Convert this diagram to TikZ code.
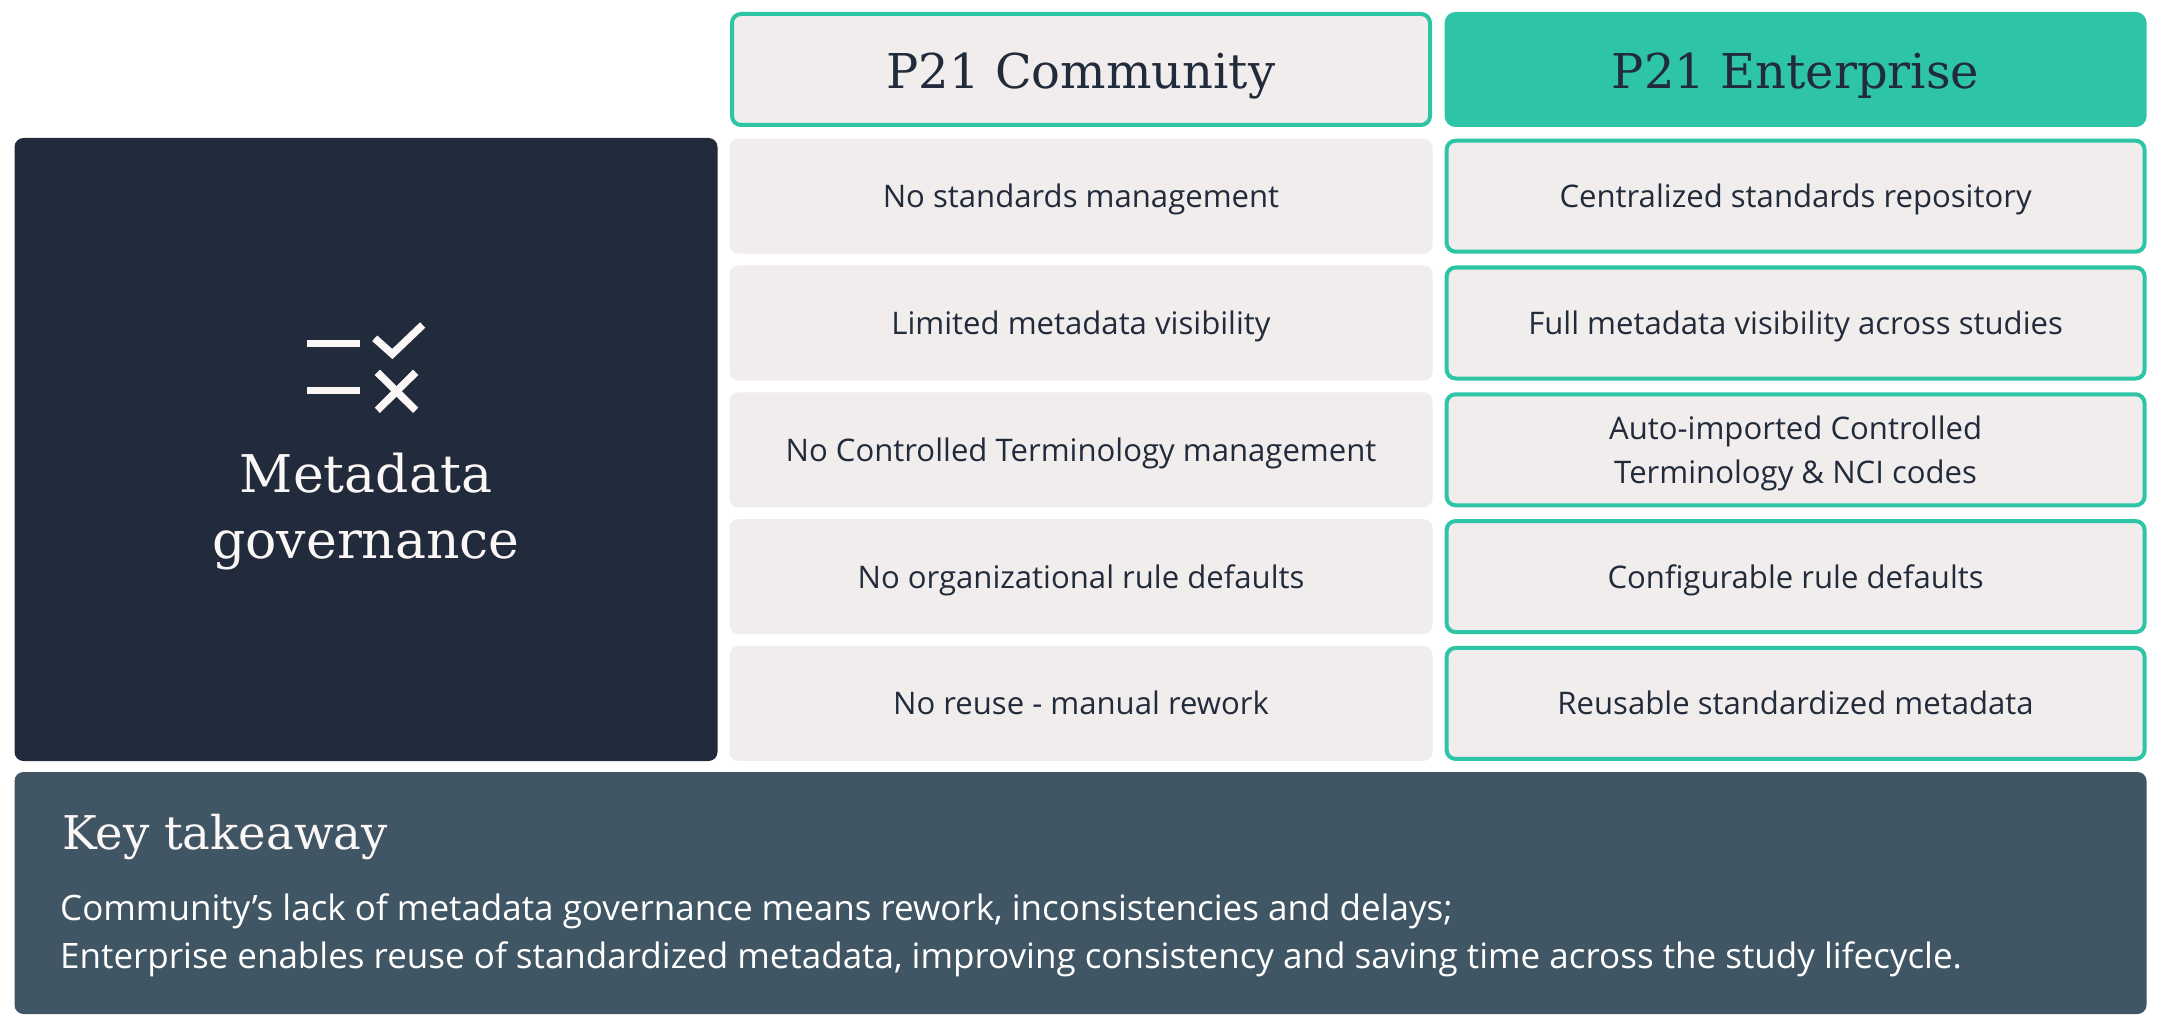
\documentclass[tikz,border=0pt]{standalone}
\usepackage{fontspec}
\setmainfont{Open Sans}
\newfontfamily\headfont{DejaVu Serif}
\definecolor{teal}{HTML}{2EC4A6}
\definecolor{navy}{HTML}{222B3B}
\definecolor{pale}{HTML}{F0EDEC}
\definecolor{slate}{HTML}{415664}
\definecolor{snow}{HTML}{FBF7F7}
\tikzset{
 x=1pt,y=-1pt,
 cellbase/.style={rectangle,rounded corners=9pt,inner sep=0pt,outer sep=0pt,align=center,text=navy,
   font=\fontsize{31.1}{44}\selectfont,text height=27pt,text depth=4pt},
 plaincell/.style={cellbase,fill=pale,minimum width=703pt,minimum height=115pt},
 proc/.style={cellbase,fill=pale,draw=teal,line width=4pt,minimum width=698pt,minimum height=111pt},
 headbase/.style={font=\headfont\fontsize{48}{48}\selectfont,text height=38pt,text depth=0pt},
 icon/.style={draw=snow,line width=7.5pt,line cap=butt},
}
\begin{document}
\begin{tikzpicture}
\useasboundingbox (0,0) rectangle (2161,1027);
\fill[white] (0,0) rectangle (2161,1027);
% left panel
\node[rectangle,rounded corners=9pt,fill=navy,minimum width=703pt,minimum height=623pt,inner sep=0pt] (panel) at (366,449.5) {};
\draw[icon] (307.3,343.7) -- (360,343.7);
\draw[icon] (307.3,390.3) -- (360,390.3);
\draw[icon,miter limit=10] (374.7,338.3) -- (392.3,354) -- (422.7,325);
\draw[icon] (377.3,372.3) -- (415.7,410.3);
\draw[icon] (377.3,410.3) -- (415.7,372.3);
\node[anchor=base,text=snow,font=\headfont\fontsize{52}{66}\selectfont,align=center] (title) at (366,558) {Metadata\\governance};
% headers
\node[proc,headbase] (hc) at (1081,69.5) {P21 Community};
\node[proc,headbase,fill=teal] (he) at (1795.6,69.5) {P21 Enterprise};
% rows
\node[plaincell] (c1) at (1081,196.2) {No standards management};
\node[plaincell] (c2) at (1081,323) {Limited metadata visibility};
\node[plaincell] (c3) at (1081,449.8) {No Controlled Terminology management};
\node[plaincell] (c4) at (1081,576.6) {No organizational rule defaults};
\node[plaincell] (c5) at (1081,703.4) {No reuse - manual rework};
\node[proc] (e1) at (1795.6,196.2) {Centralized standards repository};
\node[proc] (e2) at (1795.6,323) {Full metadata visibility across studies};
\node[proc,text height=71pt] (e3) at (1795.6,449.8) {Auto-imported Controlled\\Terminology \& NCI codes};
\node[proc] (e4) at (1795.6,576.6) {Configurable rule defaults};
\node[proc] (e5) at (1795.6,703.4) {Reusable standardized metadata};
% takeaway
\node[rectangle,rounded corners=9pt,fill=slate,minimum width=2132pt,minimum height=242pt,inner sep=0pt] (key) at (1080.5,893) {};
\node[anchor=base west,inner sep=0pt,text=snow,font=\headfont\fontsize{46.5}{48}\selectfont] (kt) at (62,849) {Key takeaway};
\node[anchor=base west,inner sep=0pt,text=white,align=left,font=\fontsize{35}{48}\selectfont] (kb) at (60,968) {Community’s lack of metadata governance means rework, inconsistencies and delays;\\Enterprise enables reuse of standardized metadata, improving consistency and saving time across the study lifecycle.};
\end{tikzpicture}
\end{document}
